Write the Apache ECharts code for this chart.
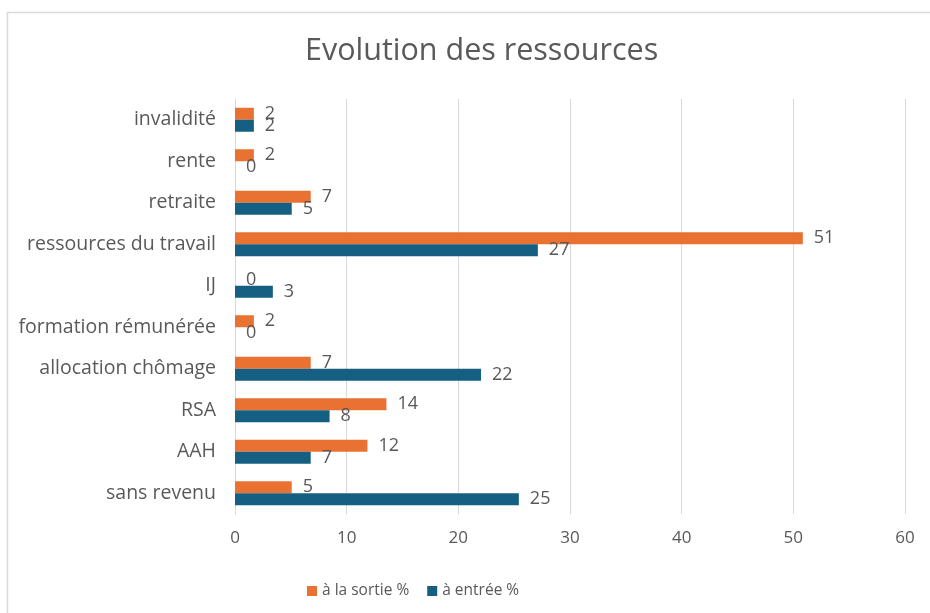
<!DOCTYPE html>
<html>
<head>
<meta charset="utf-8">
<script src="https://cdn.jsdelivr.net/npm/echarts@6/dist/echarts.min.js"></script>
<style>
html,body{margin:0;padding:0;background:#fff;}
#chart{width:930px;height:613px;}
</style>
</head>
<body>
<div id="chart"></div>
<script>
var categories = ["invalidité", "rente", "retraite", "ressources du travail", "IJ", "formation rémunérée", "allocation chômage", "RSA", "AAH", "sans revenu"];
var sortie = [1.69, 1.69, 6.78, 50.85, 0, 1.69, 6.78, 13.56, 11.86, 5.08];
var entree = [1.69, 0, 5.08, 27.12, 3.39, 0, 22.03, 8.47, 6.78, 25.42];
var xTicks = [0, 10, 20, 30, 40, 50, 60];
var seriesNames = ["à la sortie %", "à entrée %"];

var chart = echarts.init(document.getElementById('chart'));
var txt = '#595959';
var font = 'Open Sans';
var labelCfg = {
  show: true, position: 'right', distance: 11, color: txt, fontSize: 18, fontFamily: font,
  formatter: function (p) { return Math.round(p.value); }
};
chart.setOption({
  animation: false,
  backgroundColor: '#fff',
  graphic: [{
    type: 'rect', shape: {x: 7.5, y: 12.5, width: 940, height: 620},
    style: {fill: 'none', stroke: '#d9d9d9', lineWidth: 1.5}, silent: true
  }],
  title: {
    text: 'Evolution des ressources', left: 300, top: 31,
    textStyle: {color: txt, fontSize: 30.5, fontWeight: 'normal', fontFamily: font}
  },
  legend: {
    data: seriesNames, top: 578, left: 302, itemWidth: 10, itemHeight: 10, itemGap: 18,
    icon: 'rect',
    textStyle: {color: txt, fontSize: 15.5, fontFamily: font}
  },
  grid: {left: 235, right: 25, top: 99, bottom: 99, containLabel: false},
  xAxis: {
    type: 'value', min: 0, max: 60, interval: 10,
    axisLine: {show: false}, axisTick: {show: false},
    splitLine: {show: true, lineStyle: {color: '#d9d9d9', width: 1}},
    axisLabel: {color: txt, fontSize: 17, fontFamily: font, margin: 16,
      formatter: function (v) { return xTicks.indexOf(v) >= 0 ? String(v) : ''; }}
  },
  yAxis: {
    type: 'category', data: categories, inverse: true,
    axisLine: {show: true, lineStyle: {color: '#d9d9d9', width: 1}},
    axisTick: {show: false},
    axisLabel: {color: txt, fontSize: 19.5, fontFamily: font, margin: 19}
  },
  series: [
    {name: seriesNames[0], type: 'bar', data: sortie, barWidth: 12, barGap: '0%',
      itemStyle: {color: '#E97132'}, label: labelCfg},
    {name: seriesNames[1], type: 'bar', data: entree, barWidth: 12, barGap: '0%',
      itemStyle: {color: '#156082'}, label: labelCfg}
  ]
});
</script>
</body>
</html>
